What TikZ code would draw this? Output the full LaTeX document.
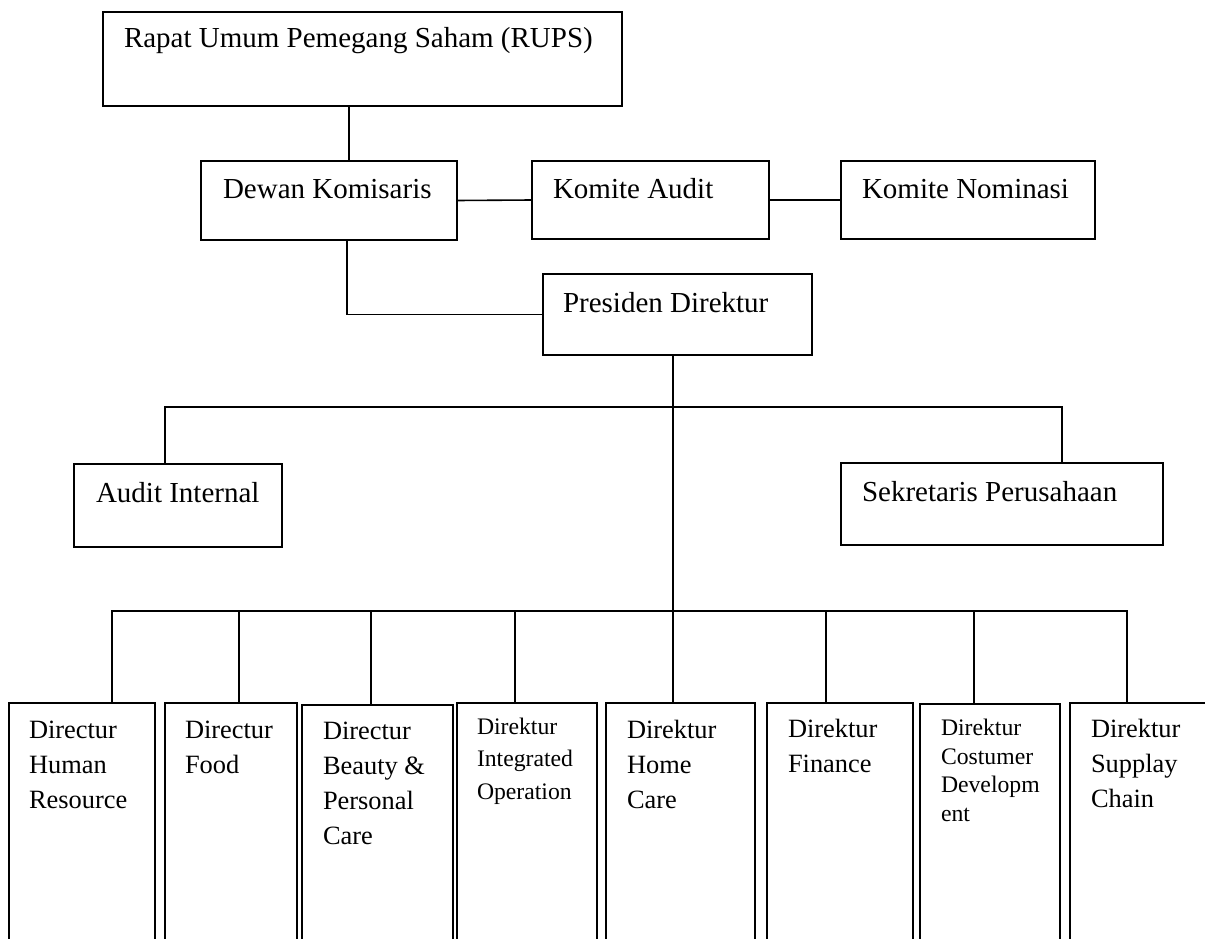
\documentclass[tikz,border=0pt]{standalone}
\usepackage{fontspec}
\setmainfont{Liberation Serif}
\begin{document}
\begin{tikzpicture}[x=1pt,y=-1pt,
  obox/.style={draw, line width=1.1pt, rectangle, inner sep=0pt, outer sep=0pt, anchor=north west},
  lbl/.style={anchor=base west, inner sep=0pt, outer sep=0pt, align=left},
  big/.style={font=\fontsize{29}{35}\selectfont},
  mid/.style={font=\fontsize{26.4}{35}\selectfont},
  smallA/.style={font=\fontsize{23.7}{32.5}\selectfont},
  smallB/.style={font=\fontsize{23.7}{28.5}\selectfont},
  conn/.style={line width=1.6pt}]
\useasboundingbox (0,0) rectangle (1205,939);
\clip (0,0) rectangle (1205,939);
\fill[white] (0,0) rectangle (1205,939);

% boxes
\node[obox, minimum width=519pt, minimum height=94pt] (rups) at (103,12) {};
\node[obox, minimum width=256pt, minimum height=79pt] (dewan) at (201,161) {};
\node[obox, minimum width=237pt, minimum height=78pt] (audit) at (532,161) {};
\node[obox, minimum width=254pt, minimum height=78pt] (nomin) at (841,161) {};
\node[obox, minimum width=269pt, minimum height=81pt] (pres) at (543,274) {};
\node[obox, minimum width=208pt, minimum height=83pt] (ai) at (74,464) {};
\node[obox, minimum width=322pt, minimum height=82pt] (sek) at (841,463) {};
\node[obox, minimum width=146pt, minimum height=250pt] (b1) at (9,703) {};
\node[obox, minimum width=132pt, minimum height=250pt] (b2) at (165,703) {};
\node[obox, minimum width=151pt, minimum height=248pt] (b3) at (302,705) {};
\node[obox, minimum width=140pt, minimum height=250pt] (b4) at (457,703) {};
\node[obox, minimum width=149pt, minimum height=250pt] (b5) at (606,703) {};
\node[obox, minimum width=146pt, minimum height=250pt] (b6) at (767,703) {};
\node[obox, minimum width=140pt, minimum height=249pt] (b7) at (920,704) {};
\node[obox, minimum width=145pt, minimum height=250pt] (b8) at (1070,703) {};

% texts (multi-line nodes are placed by the baseline of their last line)
\node[lbl,big] (rupsT) at (124,48) {Rapat Umum Pemegang Saham (RUPS)};
\node[lbl,big] (dewanT) at (223,198) {Dewan Komisaris};
\node[lbl,big] (auditT) at (553,198) {Komite Audit};
\node[lbl,big] (nominT) at (862,198) {Komite Nominasi};
\node[lbl,big] (presT) at (563,312) {Presiden Direktur};
\node[lbl,big] (aiT) at (96,502) {Audit Internal};
\node[lbl,big] (sekT) at (862,501) {Sekretaris Perusahaan};
\node[lbl,mid] (b1T) at (29,808) {Directur\\Human\\Resource};
\node[lbl,mid] (b2T) at (185,773) {Directur\\Food};
\node[lbl,mid] (b3T) at (323,844) {Directur\\Beauty \&\\Personal\\Care};
\node[lbl,smallA] (b4T) at (477,799) {Direktur\\Integrated\\Operation};
\node[lbl,mid] (b5T) at (627,808) {Direktur\\Home\\Care};
\node[lbl,mid] (b6T) at (788,772) {Direktur\\Finance};
\node[lbl,smallB] (b7T) at (941,821) {Direktur\\Costumer\\Developm\\ent};
\node[lbl,mid] (b8T) at (1091,807) {Direktur\\Supplay\\Chain};

% connector helper coordinates
\coordinate (xA) at (349,0);
\coordinate (xB) at (347,0);
\coordinate (xC) at (673,0);
\coordinate (busA) at (0,407);
\coordinate (busB) at (0,611);
\coordinate (xAI) at (165,0);
\coordinate (xSK) at (1062,0);
\coordinate (x1) at (112,0);
\coordinate (x8) at (1127,0);

% connectors
\draw[conn] (rups.south -| xA) -- (dewan.north -| xA);
\draw[conn] (dewan.east) -- (audit.west);
\draw[conn] (audit.east) -- (nomin.west);
\draw[conn] (dewan.south -| xB) |- (pres.west);
\draw[conn] (pres.south -| xC) -- (b5.north -| xC);
\draw[conn] (ai.north -| xAI) |- (busA -| xSK) -- (sek.north -| xSK);
\draw[conn] (b1.north -| x1) |- (busB -| x8) -- (b8.north -| x8);
\foreach \n/\x in {b2/239, b3/371, b4/515, b6/826, b7/974}{
  \coordinate (t) at (\x,611);
  \draw[conn] (t) -- (\n.north -| t);
}
\end{tikzpicture}
\end{document}
